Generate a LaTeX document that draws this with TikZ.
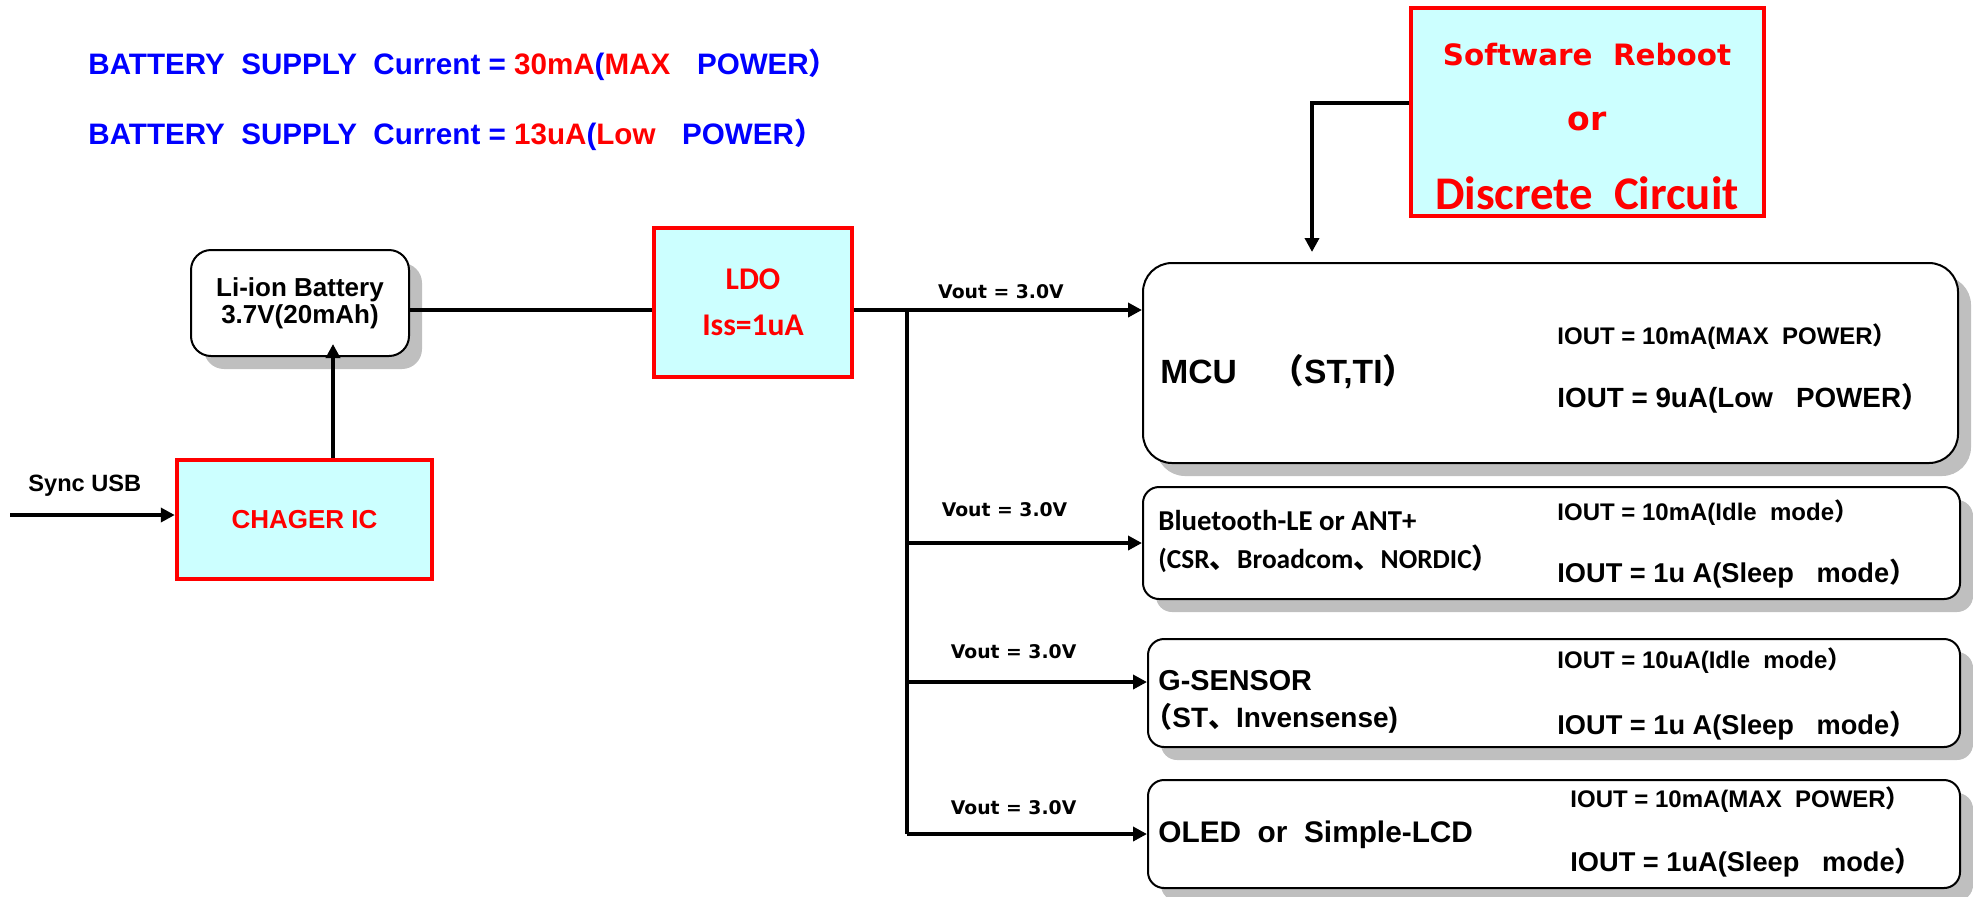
\documentclass[tikz,border=0pt]{standalone}
\usepackage{fontspec}
\setmainfont{Liberation Sans}
\newfontfamily\cjk{Noto Sans CJK SC}
\newfontfamily\verd{DejaVu Sans}
\newfontfamily\cali{Carlito}
\usetikzlibrary{arrows.meta, shadows}
\definecolor{supblue}{RGB}{0,0,255}
\definecolor{supred}{RGB}{255,0,0}
\definecolor{boxcyan}{RGB}{204,255,255}
\newcommand{\zlp}{{\cjk （}}
\newcommand{\zrp}{{\cjk ）}}
\newcommand{\zdun}{{\cjk 、}}
\newcommand{\fsz}[2]{\fontsize{#1}{#2}\selectfont}
\tikzset{hot/.style={draw=supred, line width=2.2pt, fill=boxcyan, text=supred, align=center, inner sep=0pt},
unit/.style={draw, line width=1pt, fill=white, drop shadow={shadow xshift=6.5pt, shadow yshift=-6.5pt, fill=black!25, opacity=1}},
wire/.style={line width=2.4pt},
feed/.style={line width=2pt, -{Triangle[length=7pt,width=7pt]}},
vout/.style={font=\verd\bfseries\fsz{9.4}{11}},
txt/.style={anchor=west, inner sep=0pt}
}

\begin{document}
\begin{tikzpicture}[x=0.5pt, y=-0.5pt]
\useasboundingbox (0,0) rectangle (1973,896);
% headline
\node[txt, text=supblue, font=\bfseries\fsz{14.8}{17}] (head1) at (88,65) {BATTERY\ \ SUPPLY\ \ Current = \textcolor{supred}{30mA}(\textcolor{supred}{MAX}\hspace{0.9em}POWER\zrp};
\node[txt, text=supblue, font=\bfseries\fsz{14.8}{17}] (head2) at (88,135) {BATTERY\ \ SUPPLY\ \ Current = \textcolor{supred}{13uA}(\textcolor{supred}{Low}\hspace{0.9em}POWER\zrp};
% power path
\node[unit, rounded corners=10pt, minimum width=109pt, minimum height=53pt, align=center, font=\bfseries\fsz{13}{13.5}] (batt) at (300,303) {Li-ion Battery\\3.7V(20mAh)};
\node[hot, minimum width=127.5pt, minimum height=59.5pt, font=\bfseries\fsz{13}{15}] (chg) at (304.5,519.5) {CHAGER IC};
\node[txt, font=\bfseries\fsz{11.8}{14}] (usbtxt) at (28,486) {Sync USB};
\node[hot, minimum width=99pt, minimum height=74.5pt, font=\cali\bfseries\fsz{15.8}{23}] (ldo) at (753,302.5) {LDO\\Iss=1uA};
\coordinate (usb) at (10,515);
\coordinate (chgup) at (333,0);
\coordinate (rail) at (0,310);
\draw[feed] (usb) -- (usb -| chg.west);
\draw[feed, shorten >=-6.5pt] (chg.north -| chgup) -- (batt.south -| chgup);
\draw[wire] (batt.east |- rail) -- (ldo.west |- rail);
% reset source
\node[hot, minimum width=176.5pt, minimum height=104pt] (sw) at (1587.5,112) {};
\node[text=supred, font=\verd\bfseries\fsz{14.7}{17}] (sw1) at (1587,55) {Software\ \ Reboot};
\node[text=supred, font=\verd\bfseries\fsz{16.5}{18}] (sw2) at (1587,121) {or};
\node[text=supred, font=\cali\bfseries\fsz{23.4}{26}] (sw3) at (1587,193) {Discrete\ \ Circuit};
% loads
\node[unit, rounded corners=14.5pt, minimum width=407.5pt, minimum height=100pt] (mcu) at (1550.5,363) {};
\node[unit, rounded corners=8pt, minimum width=408.5pt, minimum height=56pt] (bt) at (1551.5,543) {};
\node[unit, rounded corners=8pt, minimum width=406pt, minimum height=54pt] (gs) at (1554,693) {};
\node[unit, rounded corners=8pt, minimum width=406pt, minimum height=54pt] (oled) at (1554,834) {};
\node[txt, font=\bfseries\fsz{16.8}{19}] (mcuname) at (1160,372) {MCU\hspace{1em}\zlp ST,TI\zrp};
\node[txt, font=\bfseries\fsz{12}{14}] (mcuhi) at (1557,337) {IOUT = 10mA(MAX\ \ POWER\zrp};
\node[txt, font=\bfseries\fsz{13.9}{16}] (mculo) at (1557,398) {IOUT = 9uA(Low\ \ \ POWER\zrp};
\node[txt, font=\cali\bfseries\fsz{14.4}{16}] (btname) at (1158,520) {Bluetooth-LE or ANT+};
\node[txt, font=\cali\bfseries\fsz{13.7}{16}] (btvend) at (1158,559) {(CSR\zdun Broadcom\zdun NORDIC\zrp};
\node[txt, font=\bfseries\fsz{12}{14}] (bthi) at (1557,513) {IOUT = 10mA(Idle\ \ mode\zrp};
\node[txt, font=\bfseries\fsz{13.6}{16}] (btlo) at (1557,574) {IOUT = 1u A(Sleep\ \ \ mode\zrp};
\node[txt, font=\bfseries\fsz{14.4}{17}] (gsname) at (1158,681) {G-SENSOR};
\node[txt, font=\bfseries\fsz{14}{17}] (gsvend) at (1158,718) {\hspace{-0.5em}\zlp ST\zdun Invensense)};
\node[txt, font=\bfseries\fsz{12}{14}] (gshi) at (1557,661) {IOUT = 10uA(Idle\ \ mode\zrp};
\node[txt, font=\bfseries\fsz{13.6}{16}] (gslo) at (1557,726) {IOUT = 1u A(Sleep\ \ \ mode\zrp};
\node[txt, font=\bfseries\fsz{14.9}{17}] (oledname) at (1158,835) {OLED\ \ or\ \ Simple-LCD};
\node[txt, font=\bfseries\fsz{12}{14}] (oledhi) at (1570,800) {IOUT = 10mA(MAX\ \ POWER\zrp};
\node[txt, font=\bfseries\fsz{13.6}{16}] (oledlo) at (1570,863) {IOUT = 1uA(Sleep\ \ \ mode\zrp};
% 3.0V distribution
\coordinate (bus) at (907,310);
\coordinate (gtap) at (0,682);
\coordinate (reset) at (1312,103);
\draw[feed] (ldo.east |- rail) -- (mcu.west |- rail) node[vout, pos=0.51, yshift=9pt] (v1) {Vout = 3.0V};
\draw[wire] (bus) -- (bus |- oled.west);
\draw[feed] (bus |- bt.west) -- (bt.west) node[vout, pos=0.415, yshift=16.5pt] (v2) {Vout = 3.0V};
\draw[feed] (bus |- gtap) -- (gs.west |- gtap) node[vout, pos=0.444, yshift=15pt] (v3) {Vout = 3.0V};
\draw[feed] (bus |- oled.west) -- (oled.west) node[vout, pos=0.444, yshift=13pt] (v4) {Vout = 3.0V};
\draw[feed, shorten >=5pt] (sw.west |- reset) -- (reset) -- (reset |- mcu.north);
\end{tikzpicture}
\end{document}
